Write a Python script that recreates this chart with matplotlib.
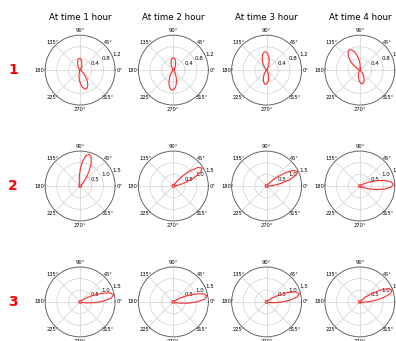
import numpy as np
import matplotlib.pyplot as plt

# column titles and row labels
titles = ['At time 1 hour', 'At time 2 hour', 'At time 3 hour', 'At time 4 hour']
row_names = ['1', '2', '3']
row_rticks = [[0.4, 0.8, 1.2], [0.5, 1.0, 1.5], [0.5, 1.0, 1.5]]

# curves: angle in degrees, radius
# row 1 (two lobes, figure-eight)
r1c1_deg = [53, 63, 68, 73, 78, 83, 88, 93, 98, 103, 108, 113, 118, 123, 133,
            247, 257, 262, 267, 272, 277, 282, 287, 292, 297, 302, 307, 312, 317, 327]
r1c1_r = [0.03, 0.10, 0.15, 0.21, 0.28, 0.34, 0.39, 0.40, 0.39, 0.34, 0.28, 0.21, 0.15, 0.10, 0.03,
          0.05, 0.16, 0.25, 0.37, 0.48, 0.58, 0.65, 0.68, 0.65, 0.58, 0.48, 0.37, 0.25, 0.16, 0.05]
r1c2_deg = [50, 60, 65, 70, 75, 80, 85, 90, 95, 100, 105, 110, 115, 120, 130,
            227, 237, 242, 247, 252, 257, 262, 267, 272, 277, 282, 287, 292, 297, 307]
r1c2_r = [0.03, 0.10, 0.16, 0.23, 0.30, 0.37, 0.41, 0.43, 0.41, 0.37, 0.30, 0.23, 0.16, 0.10, 0.03,
          0.05, 0.16, 0.26, 0.37, 0.49, 0.59, 0.66, 0.69, 0.66, 0.59, 0.49, 0.37, 0.26, 0.16, 0.05]
r1c3_deg = [55, 65, 70, 75, 80, 85, 90, 95, 100, 105, 110, 115, 120, 125, 135,
            226, 236, 241, 246, 251, 256, 261, 266, 271, 276, 281, 286, 291, 296, 306]
r1c3_r = [0.04, 0.15, 0.23, 0.34, 0.45, 0.54, 0.61, 0.63, 0.61, 0.54, 0.45, 0.34, 0.23, 0.15, 0.04,
          0.03, 0.12, 0.18, 0.26, 0.35, 0.42, 0.47, 0.49, 0.47, 0.42, 0.35, 0.26, 0.18, 0.12, 0.03]
r1c4_deg = [77, 87, 92, 97, 102, 107, 112, 117, 122, 127, 132, 137, 142, 147, 157,
            240, 250, 255, 260, 265, 270, 275, 280, 285, 290, 295, 300, 305, 310, 320]
r1c4_r = [0.05, 0.18, 0.29, 0.42, 0.55, 0.67, 0.75, 0.78, 0.75, 0.67, 0.55, 0.42, 0.29, 0.18, 0.05,
          0.03, 0.11, 0.18, 0.26, 0.34, 0.41, 0.46, 0.48, 0.46, 0.41, 0.34, 0.26, 0.18, 0.11, 0.03]

# row 2 (single lobe + tiny loop round the centre)
r2c1_deg = [39, 44, 49, 54, 59, 64, 69, 74, 79, 84, 89, 94, 99, 104, 109, 150, 190, 230, 270, 310, 350]
r2c1_r = [0.06, 0.11, 0.24, 0.46, 0.76, 1.08, 1.33, 1.42, 1.33, 1.08, 0.76, 0.46, 0.24, 0.11, 0.06,
          0.06, 0.06, 0.06, 0.06, 0.06, 0.06]
r2c2_deg = [2, 7, 12, 17, 22, 27, 32, 37, 42, 47, 52, 57, 62, 100, 145, 190, 235, 280, 325]
r2c2_r = [0.06, 0.12, 0.31, 0.61, 0.99, 1.32, 1.45, 1.32, 0.99, 0.61, 0.31, 0.12, 0.06,
          0.06, 0.06, 0.06, 0.06, 0.06, 0.06]
r2c3_deg = [-5, 0, 5, 10, 15, 20, 25, 30, 35, 40, 45, 50, 55, 95, 140, 185, 230, 275, 320]
r2c3_r = [0.06, 0.12, 0.31, 0.62, 1.00, 1.34, 1.47, 1.34, 1.00, 0.62, 0.31, 0.12, 0.06,
          0.06, 0.06, 0.06, 0.06, 0.06, 0.06]
r2c4_deg = [-32, -27, -22, -17, -12, -7, -2, 3, 8, 13, 18, 23, 28, 33, 38, 80, 125, 170, 215, 260, 300]
r2c4_r = [0.06, 0.08, 0.20, 0.42, 0.73, 1.07, 1.34, 1.45, 1.34, 1.07, 0.73, 0.42, 0.20, 0.08, 0.06,
          0.06, 0.06, 0.06, 0.06, 0.06, 0.06]

# row 3
r3c1_deg = [-18, -13, -8, -3, 2, 7, 12, 17, 22, 27, 32, 37, 42, 85, 130, 175, 220, 265, 300]
r3c1_r = [0.06, 0.12, 0.31, 0.62, 1.00, 1.34, 1.47, 1.34, 1.00, 0.62, 0.31, 0.12, 0.06,
          0.06, 0.06, 0.06, 0.06, 0.06, 0.06]
r3c2_deg = [-20, -15, -10, -5, 0, 5, 10, 15, 20, 25, 30, 35, 40, 85, 130, 175, 220, 265, 300]
r3c2_r = [0.06, 0.12, 0.31, 0.62, 1.00, 1.34, 1.47, 1.34, 1.00, 0.62, 0.31, 0.12, 0.06,
          0.06, 0.06, 0.06, 0.06, 0.06, 0.06]
r3c3_deg = [-16, -11, -6, -1, 4, 9, 14, 19, 24, 29, 34, 39, 44, 85, 130, 175, 220, 265, 300]
r3c3_r = [0.06, 0.12, 0.31, 0.61, 0.99, 1.32, 1.45, 1.32, 0.99, 0.61, 0.31, 0.12, 0.06,
          0.06, 0.06, 0.06, 0.06, 0.06, 0.06]
r3c4_deg = [-10, -5, 0, 5, 10, 15, 20, 25, 30, 35, 40, 45, 50, 95, 140, 185, 230, 275, 315]
r3c4_r = [0.06, 0.12, 0.31, 0.62, 1.01, 1.35, 1.48, 1.35, 1.01, 0.62, 0.31, 0.12, 0.06,
          0.06, 0.06, 0.06, 0.06, 0.06, 0.06]

curves = [
    [(r1c1_deg, r1c1_r), (r1c2_deg, r1c2_r), (r1c3_deg, r1c3_r), (r1c4_deg, r1c4_r)],
    [(r2c1_deg, r2c1_r), (r2c2_deg, r2c2_r), (r2c3_deg, r2c3_r), (r2c4_deg, r2c4_r)],
    [(r3c1_deg, r3c1_r), (r3c2_deg, r3c2_r), (r3c3_deg, r3c3_r), (r3c4_deg, r3c4_r)],
]

# polar theta labels get +7pt extra padding internally, so pull them back in
plt.rcParams['xtick.major.pad'] = -3.8
plt.rcParams['xtick.major.size'] = 0
plt.rcParams['ytick.major.pad'] = 0

fig, axes = plt.subplots(3, 4, figsize=(3.96, 3.41), dpi=100,
                         subplot_kw={'projection': 'polar'})
plt.subplots_adjust(left=0.114, right=0.997, top=0.897, bottom=0.012,
                    wspace=0.333, hspace=0.657)

for i in range(3):
    for j in range(4):
        ax = axes[i, j]
        deg, r = curves[i][j]
        # close the loop
        th = np.radians(list(deg) + [deg[0] + 360])
        rr = list(r) + [r[0]]
        ax.plot(th, rr, color='#ff2a2a', lw=0.8)
        ax.set_rticks(row_rticks[i])
        ax.set_rmax(row_rticks[i][-1])
        ax.set_rlabel_position(22.5)
        ax.tick_params(axis='x', labelsize=3.7)
        ax.tick_params(axis='y', labelsize=4)
        ax.grid(color='#d0d0d0', lw=0.5)
        ax.spines['polar'].set_linewidth(0.6)
        ax.spines['polar'].set_color('#555555')
        if i == 0:
            ax.set_title(titles[j], fontsize=6.3, pad=11)
    axes[i, 0].text(-0.46, 0.5, row_names[i], transform=axes[i, 0].transAxes,
                    color='red', fontsize=10, fontweight='bold', ha='center', va='center')

fig.savefig('out.png', dpi=100)
